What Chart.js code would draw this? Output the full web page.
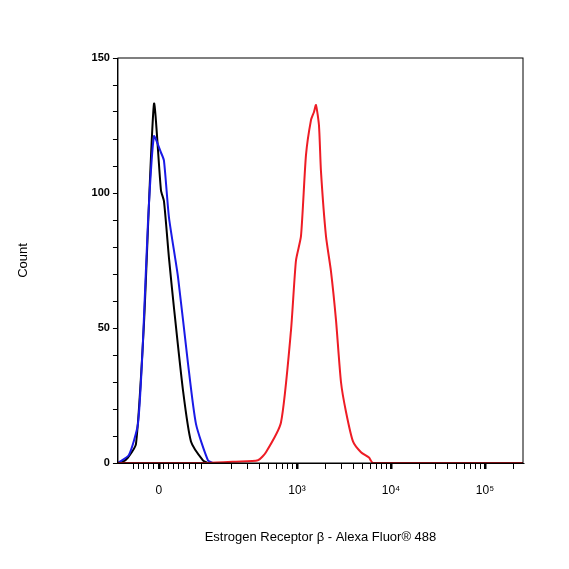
<!DOCTYPE html>
<html><head><meta charset="utf-8">
<script src="https://cdn.jsdelivr.net/npm/chart.js@4/dist/chart.umd.min.js"></script>
<style>html,body{margin:0;background:#fff}#wrap{width:569px;height:569px}</style>
</head><body><div id="wrap"><canvas id="c"></canvas></div>
<script>
// x in display channels (0..405), y in counts
const blackX = [0, 5, 10, 18, 26, 36, 43, 46, 51, 56, 65, 73, 85, 90];
const blackY = [0, 0.5, 2, 7, 51.6, 133, 101, 97, 76, 57.5, 27, 8, 1, 0];
const blueX = [0, 11, 20, 25, 30, 36, 43, 46, 51, 60, 70, 78, 90, 95];
const blueY = [0, 3, 14.5, 45, 89, 121, 115, 112, 91, 69, 37, 14.5, 1, 0];
const redX = [0, 90, 118, 140, 148, 163, 173, 178, 183, 188, 193, 196, 198, 201, 203, 208, 213, 218, 223, 228, 235, 243, 251, 255, 405];
const redY = [0, 0, 0.5, 1, 4, 15, 49, 75, 84, 114, 127, 130, 132.6, 125, 108, 84, 71, 53, 30, 19, 8, 4, 2, 0, 0];
const majorPos = [41, 179, 273, 367];
const majorLabels = ["0", "10³", "10⁴", "10⁵"];

const pts = (xs, ys) => xs.map((x, i) => ({ x: x, y: ys[i] }));

// minor tick positions (log spacing per decade, mirrored near zero)
const minor = [];
for (let d = 0; d < 3; d++) {
  for (let k = 2; k <= 9; k++) minor.push(179 + 94 * (d - 1) + 94 * Math.log10(k));
}
for (let k = 2; k <= 4; k++) minor.push(367 + 94 * Math.log10(k));
for (let i = 1; i <= 5; i++) { minor.push(41 + i * 5); minor.push(41 - i * 5); }
for (let i = 1; i <= 3; i++) minor.push(41 + 25 + i * 6);
const xTicks = majorPos.concat(minor).filter(v => v > 0 && v < 405);

const line = (label, data, color) => ({
  label, data, borderColor: color, borderWidth: 2, pointRadius: 0, tension: 0.2, fill: false
});

const frame = {
  id: "frame",
  afterDraw(chart) {
    const { ctx, chartArea: a } = chart;
    ctx.save();
    ctx.strokeStyle = "#000";
    ctx.lineWidth = 1;
    ctx.strokeRect(a.left, a.top, a.right - a.left, a.bottom - a.top);
    ctx.restore();
  }
};

new Chart(document.getElementById("c"), {
  type: "line",
  data: {
    datasets: [
      line("red", pts(redX, redY), "#ee1c25"),
      line("blue", pts(blueX, blueY), "#1a1ae6"),
      line("black", pts(blackX, blackY), "#000000"),
    ],
  },
  options: {
    responsive: true,
    maintainAspectRatio: false,
    animation: false,
    layout: { padding: { left: 12, right: 46, top: 58, bottom: 20 } },
    plugins: { legend: { display: false }, tooltip: { enabled: false } },
    scales: {
      x: {
        type: "linear", min: 0, max: 405,
        afterBuildTicks: (s) => { s.ticks = xTicks.map(v => ({ value: v })); },
        ticks: {
          autoSkip: false, maxRotation: 0, color: "#000",
          font: { family: "Liberation Sans", size: 12 },
          callback: (v) => { const i = majorPos.indexOf(v); return i >= 0 ? majorLabels[i] : ""; },
          padding: 14,
        },
        grid: {
          drawOnChartArea: false, tickLength: 6, color: "#000",
          lineWidth: (c) => (c.tick && majorPos.includes(c.tick.value) ? 2.5 : 1),
        },
        border: { color: "#000", width: 1 },
        title: { display: true, text: "Estrogen Receptor β - Alexa Fluor® 488", color: "#000",
                 font: { family: "Liberation Sans", size: 13 }, padding: { top: 18 } },
      },
      y: {
        min: 0, max: 150,
        ticks: {
          stepSize: 10, autoSkip: false, color: "#000",
          font: { family: "Liberation Sans", size: 11, weight: "bold" },
          callback: (v) => (v % 50 === 0 ? v : ""),
        },
        grid: { drawOnChartArea: false, tickLength: 5, color: "#000" },
        border: { color: "#000", width: 1 },
        title: { display: true, text: "Count", color: "#000",
                 font: { family: "Liberation Sans", size: 13 }, padding: { bottom: 57 } },
      },
    },
  },
  plugins: [frame],
});
</script></body></html>
